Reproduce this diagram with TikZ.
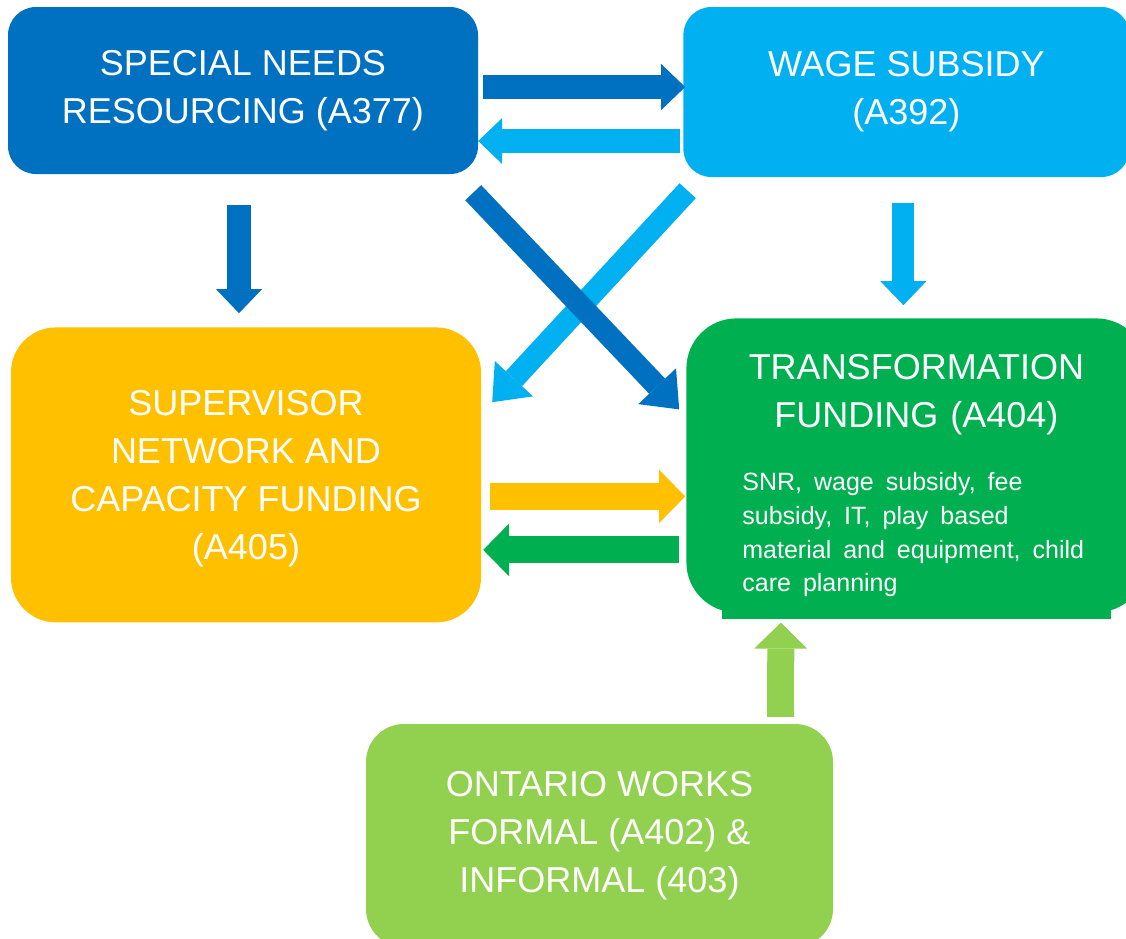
\documentclass[tikz,border=0pt]{standalone}
\usepackage{fontspec}
\setmainfont{Liberation Sans}
\usetikzlibrary{positioning, calc, arrows.meta, backgrounds}
\definecolor{snrblue}{HTML}{0070C0}
\definecolor{wageblue}{HTML}{00B0F0}
\definecolor{svnyellow}{HTML}{FFC000}
\definecolor{transgreen}{HTML}{00B050}
\definecolor{owgreen}{HTML}{92D050}
\newcommand{\titlefont}{\fontsize{36}{48}\selectfont}
\newcommand{\notefont}{\fontsize{25}{33.7}\selectfont}

\begin{document}
\begin{tikzpicture}[x=1pt, y=-1pt,
  box/.style={rectangle, text=white, align=center, font=\titlefont, inner sep=0pt},
  arrowa/.style={line width=24pt, -{Triangle[width=46pt, length=24pt, line width=0pt]}},
  arrowb/.style={line width=27pt, -{Triangle[width=53pt, length=26pt, line width=0pt]}},
  arrowc/.style={line width=22pt, -{Triangle[width=52pt, length=32pt, line width=0pt]}}]
  \begin{scope}[on background layer]
    \path[use as bounding box, fill=white] (0,0) rectangle (1126,938);
  \end{scope}
  \clip (0,0) rectangle (1126,938);

  % boxes
  \node [box, fill=snrblue, rounded corners=28pt, minimum width=470pt, minimum height=167pt] (snr) at (243,90.5) {SPECIAL NEEDS\\RESOURCING (A377)};
  \node [box, fill=wageblue, rounded corners=28pt, minimum width=446pt, minimum height=170pt][right=205pt of snr, yshift=-1.5pt] (wage) {WAGE SUBSIDY\\(A392)};
  \node [box, fill=svnyellow, rounded corners=45pt, minimum width=470pt, minimum height=295pt, text depth=0pt][below=153pt of snr, xshift=3pt] (svn) {SUPERVISOR\\NETWORK AND\\CAPACITY FUNDING\\(A405)};
  \node [box, fill=transgreen, rounded corners=50pt, minimum width=460pt, minimum height=294pt, align=left, text width=348pt][below=141pt of wage, xshift=10pt] (trans)
    {{\centering\rule{0pt}{46pt}TRANSFORMATION\\FUNDING (A404)\par}\vspace{29pt}{\notefont\frenchspacing\raggedright SNR, wage subsidy, fee\\subsidy, IT, play based\\\mbox{material and equipment, child}\\care planning\par}};
  \begin{scope}[on background layer]
    \fill [transgreen] ($(trans.south west)+(36,-22)$) rectangle ($(trans.south west)+(425,6)$);
  \end{scope}
  \node [box, fill=owgreen, rounded corners=38pt, minimum width=467pt, minimum height=223pt] (ow) at (599.5,835.5) {ONTARIO WORKS\\FORMAL (A402) \&\\INFORMAL (403)};

  % edges
  \draw [arrowa, snrblue] ($(snr.east)+(5,-3.5)$) to ($(wage.west)+(2,-5)$);
  \draw [arrowa, wageblue] ($(wage.west)+(-3,49)$) to ($(snr.east)+(0,50.5)$);
  \draw [arrowa, snrblue] ($(snr.south)+(-4,31)$) to ($(svn.north)+(-7,-14)$);
  \draw [arrowa, line width=22pt, wageblue] ($(wage.south)+(-3,26)$) to ($(trans.north)+(-13,-13)$);
  \draw [arrowc, wageblue] ($(wage.south west)+(4.5,13.5)$) to ($(svn.north east)+(11,75)$);
  \draw [arrowc, snrblue] ($(snr.south east)+(-5,18.5)$) to ($(trans.west)+(-7,-56)$);
  \draw [arrowb, svnyellow] ($(svn.east)+(9,21.5)$) to ($(trans.west)+(-1,31)$);
  \draw [arrowb, transgreen] ($(trans.west)+(-7,84.5)$) to ($(svn.east)+(2,75)$);
  \draw [arrowb, owgreen] ($(ow.north)+(181,-7)$) to ($(trans.south)+(-135.5,10)$);
\end{tikzpicture}
\end{document}
